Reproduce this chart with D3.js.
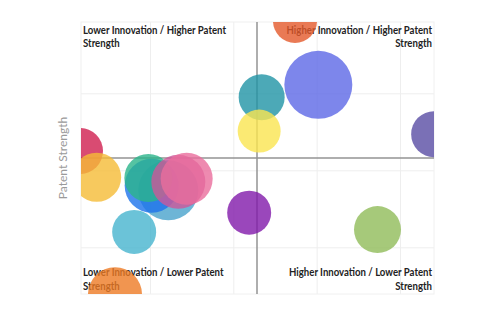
<!DOCTYPE html>
<html><head><meta charset="utf-8">
<script src="https://cdn.jsdelivr.net/npm/d3@7"></script>
<style>body{margin:0;background:#fff}svg{display:block}</style>
</head><body>
<svg id="c" width="500" height="322"></svg>
<script>
// Data
const names = ["A","B","C","D","E","F","G","H","I","J","K","L","M","N","O","P"];
const innovation = [37.4, 40.2, 33.4, 33.1, 54.1, 11.6, 13.6, 22.2, 20.2, 19.8, 23.4, 24.4, 18.1, 31.9, 47.3, 15.8];
const patentStrength = [39.4, 31.1, 29.5, 25.1, 24.7, 22.5, 19.1, 17.4, 18.0, 19.0, 18.5, 18.9, 12.0, 14.5, 12.3, 3.9];
const sizes = [22, 34, 23, 21.5, 23, 23, 24.5, 30, 27, 24, 27, 26, 22, 22, 23.5, 27];
const colors = ["#E4592A","#5C68E6","#1F94A5","#FAE550","#594CA4","#CF1E4F","#F5BC36","#48A3CC","#1D73EB","#2BB48B","#CD589A","#EA6D9C","#46B4CE","#8119AA","#90BC59","#EE7B24"];
const xTicks = [20, 30, 40, 50];
const yTicks = [10, 20, 30];
const xMid = 32.84, yMid = 21.6;
const quadrantLabels = [
  ["Lower Innovation / Higher Patent", "Strength"],
  ["Higher Innovation / Higher Patent", "Strength"],
  ["Lower Innovation / Lower Patent", "Strength"],
  ["Higher Innovation / Lower Patent", "Strength"]
];
const yTitle = "Patent Strength";

const svg = d3.select("#c");
const L = 81, R = 434, T = 22, B = 294;
const x = d3.scaleLinear().domain([11.72, 54.08]).range([L, R]);
const y = d3.scaleLinear().domain([3.94, 39.26]).range([B, T]);
const rS = d3.scaleLinear().domain([0, 34]).range([0, 34]);

svg.append("defs").append("clipPath").attr("id","clip")
  .append("rect").attr("x",L).attr("y",T).attr("width",R-L).attr("height",B-T);

// grid via axes
const gx = svg.append("g").attr("transform",`translate(0,${B})`)
  .call(d3.axisBottom(x).tickValues(xTicks).tickSize(-(B-T)).tickFormat(""));
const gy = svg.append("g").attr("transform",`translate(${L},0)`)
  .call(d3.axisLeft(y).tickValues(yTicks).tickSize(-(R-L)).tickFormat(""));
[gx,gy].forEach(g=>{g.select(".domain").remove();g.selectAll(".tick line").attr("stroke","#eeeeee").attr("stroke-width",1);});
svg.append("rect").attr("x",L).attr("y",T).attr("width",R-L).attr("height",B-T)
  .attr("fill","none").attr("stroke","#f0f0f0");

// center lines
svg.append("line").attr("x1",x(xMid)).attr("x2",x(xMid)).attr("y1",T).attr("y2",B).attr("stroke","#939393").attr("stroke-width",1.5);
svg.append("line").attr("x1",L).attr("x2",R).attr("y1",y(yMid)).attr("y2",y(yMid)).attr("stroke","#939393").attr("stroke-width",1.5);

// quadrant labels
const font = "Lato, 'Open Sans', sans-serif";
const pos = [
  {x:L+2, y:33.8, a:"start"},
  {x:R-2, y:33.8, a:"end"},
  {x:L+2, y:276.3, a:"start"},
  {x:R-2, y:276.3, a:"end"}
];
let ratio = null;
quadrantLabels.forEach((lines,i)=>{
  lines.forEach((s,j)=>{
    const t = svg.append("text").attr("x",pos[i].x).attr("y",pos[i].y + j*13.3)
      .attr("text-anchor",pos[i].a).attr("font-family",font).attr("font-weight",700)
      .attr("font-size",11.2).attr("fill","#222").text(s);
    const w = t.node().getComputedTextLength();
    if (ratio === null) ratio = 143 / w;
    t.attr("textLength", w*ratio).attr("lengthAdjust","spacingAndGlyphs");
  });
});

// y title
svg.append("text").attr("transform",`translate(67,${(T+B)/2}) rotate(-90)`)
  .attr("text-anchor","middle").attr("font-family",font).attr("font-size",12)
  .attr("fill","#9a9a9a").text(yTitle);

// bubbles
svg.append("g").attr("clip-path","url(#clip)").selectAll("circle")
  .data(names.map((n,i)=>({n, x:innovation[i], y:patentStrength[i], s:sizes[i], c:colors[i]})))
  .join("circle")
  .attr("cx",d=>x(d.x)).attr("cy",d=>y(d.y)).attr("r",d=>rS(d.s))
  .attr("fill",d=>d.c).attr("fill-opacity",0.8);
</script>
</body></html>
